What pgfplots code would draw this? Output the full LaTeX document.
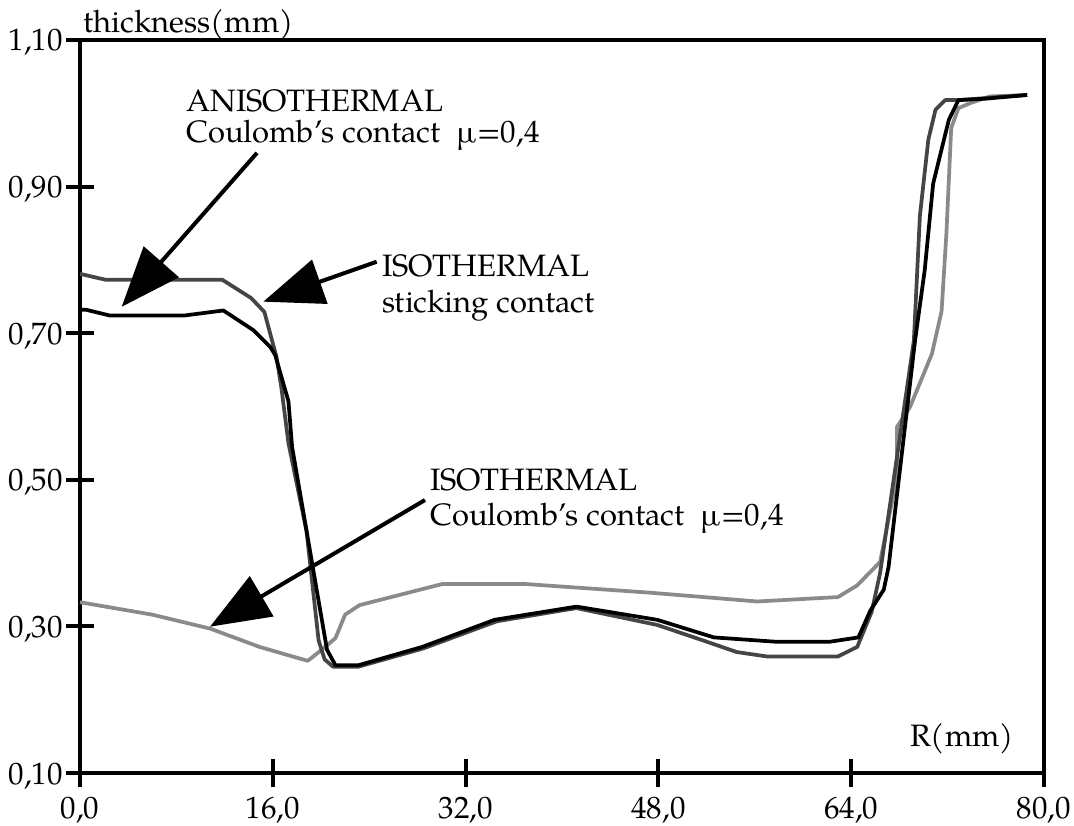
\documentclass[border=0pt]{standalone}
\usepackage{fontspec}
\setmainfont{TeX Gyre Pagella}
\usepackage{pgfplots}
\pgfplotsset{compat=1.18}
\usetikzlibrary{arrows.meta}
\definecolor{dkgray}{HTML}{454545}
\definecolor{ltgray}{HTML}{8A8A8A}

\pgfplotstableread{
x y
0 0.333
6.0 0.316
10.8 0.297
14.9 0.272
18.9 0.253
20.2 0.270
21.2 0.284
22.0 0.316
23.2 0.329
30.1 0.358
36.8 0.358
47.3 0.346
56.2 0.334
62.9 0.340
64.5 0.356
66.4 0.388
67.8 0.504
67.8 0.572
68.9 0.600
70.7 0.672
71.5 0.730
71.9 0.836
72.3 0.980
72.9 1.007
73.9 1.014
75.5 1.023
78.6 1.025
}\isoCoulomb

\pgfplotstableread{
x y
0 0.781
2.1 0.773
11.8 0.773
14.2 0.748
15.3 0.729
16.3 0.668
16.7 0.627
17.3 0.550
18.8 0.430
19.8 0.281
20.3 0.255
21.0 0.245
23.1 0.245
28.5 0.270
34.6 0.307
41.2 0.325
47.9 0.302
51.5 0.282
54.5 0.265
57.0 0.259
62.9 0.259
64.5 0.272
65.7 0.320
66.4 0.373
69.2 0.690
69.7 0.860
70.4 0.964
71.0 1.005
71.8 1.018
72.9 1.018
78.6 1.025
}\isoSticking

\pgfplotstableread{
x y
0 0.732
0.5 0.732
2.5 0.724
8.6 0.724
11.9 0.731
14.4 0.704
15.8 0.681
16.2 0.670
17.3 0.607
17.6 0.545
20.5 0.268
21.2 0.247
23.1 0.247
28.4 0.272
34.4 0.309
41.2 0.327
47.9 0.309
52.6 0.285
57.8 0.279
62.2 0.279
64.6 0.285
65.6 0.322
66.7 0.350
67.1 0.381
69.3 0.690
70.1 0.786
70.8 0.904
72.1 0.991
72.9 1.018
75.2 1.020
78.6 1.025
}\anisoCoulomb

\begin{document}
\fontsize{23.2pt}{28pt}\selectfont
\begin{tikzpicture}
\useasboundingbox (0,0) rectangle (805.5pt,618.75pt);
\begin{axis}[
  at={(60pt,39pt)}, anchor=south west,
  scale only axis, width=723pt, height=549.75pt,
  xmin=0, xmax=80, ymin=0.1, ymax=1.1,
  axis line style={line width=3pt, line cap=rect},
  xtick={0,16,32,48,64,80},
  xticklabels={{0,0},{16,0},{32,0},{48,0},{64,0},{80,0}},
  ytick={0.1,0.3,0.5,0.7,0.9,1.1},
  yticklabels={{0,10},{0,30},{0,50},{0,70},{0,90},{1,10}},
  tick pos=left,
  tick align=center,
  major tick length=21pt,
  tick style={line width=3pt, black},
  xticklabel style={inner sep=0pt, yshift=-7.4pt},
  yticklabel style={inner sep=0pt, xshift=-2.2pt, yshift=-2pt},
  clip=false,
]
\addplot[ltgray, line width=2.8pt, line join=round] table[x=x,y=y] {\isoCoulomb};
\addplot[dkgray, line width=2.8pt, line join=round] table[x=x,y=y] {\isoSticking};
\addplot[black, line width=2.8pt, line join=round] table[x=x,y=y] {\anisoCoulomb};

\node[anchor=base west, inner sep=0pt, xshift=2.25pt, yshift=5.25pt] at (rel axis cs:0,1) {thickness(mm)};
\node[anchor=base west, inner sep=0pt] at (axis cs:68.88,0.1355) {R(mm)};

\node[anchor=base west, inner sep=0pt] at (axis cs:8.80,1.003) {ANISOTHERMAL};
\node[anchor=base west, inner sep=0pt] at (axis cs:8.80,0.9595) {Coulomb’s contact\ \ µ=0,4};
\node[anchor=base west, inner sep=0pt] at (axis cs:25.06,0.7767) {ISOTHERMAL};
\node[anchor=base west, inner sep=0pt] at (axis cs:25.06,0.7276) {sticking contact};
\node[anchor=base west, inner sep=0pt] at (axis cs:29.05,0.486) {ISOTHERMAL};
\node[anchor=base west, inner sep=0pt] at (axis cs:29.05,0.437) {Coulomb’s contact\ \ µ=0,4};

\draw[line width=3pt, -{Triangle[length=45pt,width=34.5pt]}] (axis cs:14.69,0.946) -- (axis cs:3.46,0.736);
\draw[line width=3pt, -{Triangle[length=45pt,width=34.5pt]}] (axis cs:24.62,0.7975) -- (axis cs:15.21,0.743);
\draw[line width=3pt, -{Triangle[length=45pt,width=34.5pt]}] (axis cs:28.63,0.4724) -- (axis cs:10.79,0.2996);
\end{axis}
\end{tikzpicture}
\end{document}
